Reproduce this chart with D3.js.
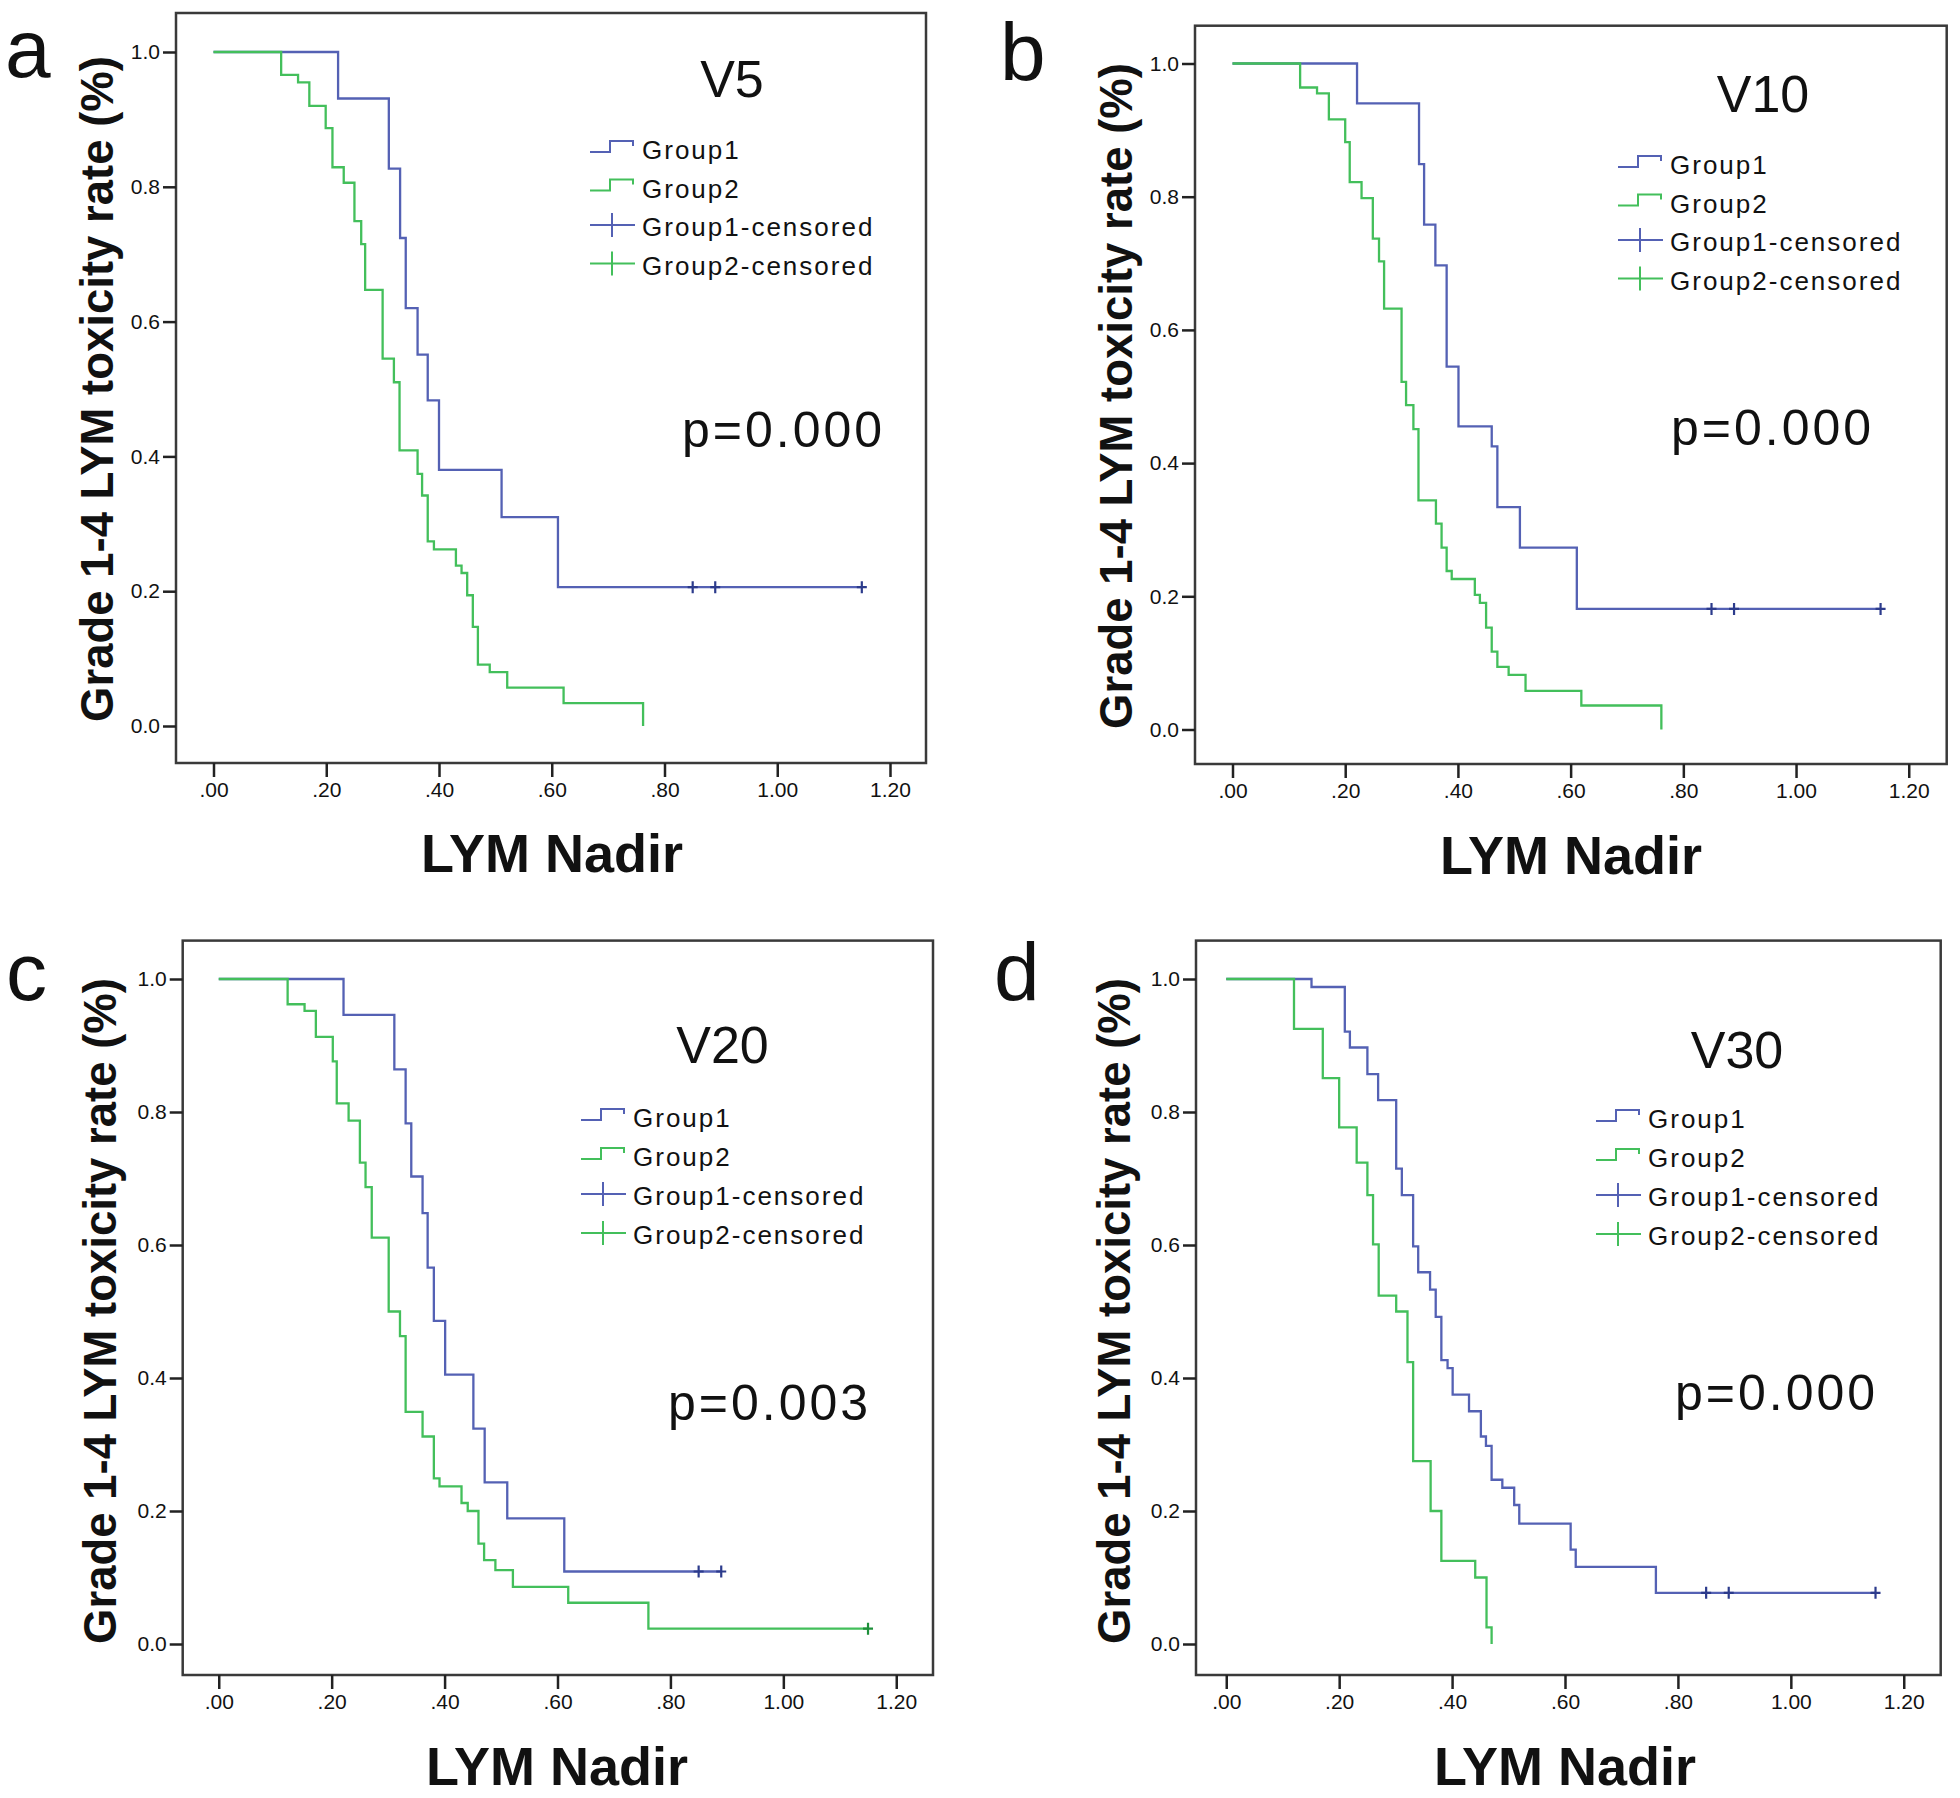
<!DOCTYPE html>
<html>
<head>
<meta charset="utf-8">
<script src="https://cdn.jsdelivr.net/npm/d3@7"></script>
<style>
  html, body { margin: 0; padding: 0; background: #fff; }
  svg { display: block; }
  text { font-family: "Liberation Sans", Arial, sans-serif; fill: #111; }
</style>
</head>
<body>
<svg id="chart" width="1960" height="1798"></svg>
<script>
// ---------------- DATA ----------------
const panelIds = ["a", "b", "c", "d"];
const panelTitles = ["V5", "V10", "V20", "V30"];
const pValues = ["p=0.000", "p=0.000", "p=0.003", "p=0.000"];
const legendLabels = ["Group1", "Group2", "Group1-censored", "Group2-censored"];
const xTickValues = [0, 0.2, 0.4, 0.6, 0.8, 1.0, 1.2];
const xTickLabels = [".00", ".20", ".40", ".60", ".80", "1.00", "1.20"];
const yTickValues = [0, 0.2, 0.4, 0.6, 0.8, 1.0];
const yTickLabels = ["0.0", "0.2", "0.4", "0.6", "0.8", "1.0"];
const xTitle = "LYM Nadir";
const yTitle = "Grade 1-4 LYM toxicity rate (%)";

// Panel a (V5)
const aG1Times = [0.221, 0.311, 0.331, 0.341, 0.362, 0.380, 0.400, 0.511, 0.611];
const aG1Surv  = [0.931, 0.827, 0.724, 0.620, 0.551, 0.483, 0.380, 0.310, 0.206];
const aG1Cens  = [0.85, 0.89, 1.15];
const aG2Times = [0.120, 0.150, 0.170, 0.199, 0.211, 0.231, 0.250, 0.262, 0.269, 0.300, 0.320, 0.330, 0.362, 0.370, 0.380, 0.391, 0.430, 0.440, 0.450, 0.460, 0.469, 0.490, 0.521, 0.621, 0.762];
const aG2Surv  = [0.966, 0.955, 0.920, 0.887, 0.829, 0.806, 0.749, 0.715, 0.647, 0.545, 0.510, 0.409, 0.374, 0.342, 0.274, 0.262, 0.238, 0.227, 0.194, 0.147, 0.091, 0.080, 0.057, 0.034, 0.000];
const aG2Cens  = [];

// Panel b (V10)
const bG1Times = [0.221, 0.331, 0.340, 0.360, 0.380, 0.401, 0.460, 0.470, 0.510, 0.611];
const bG1Surv  = [0.940, 0.849, 0.758, 0.697, 0.545, 0.455, 0.425, 0.334, 0.273, 0.181];
const bG1Cens  = [0.85, 0.89, 1.15];
const bG2Times = [0.120, 0.150, 0.171, 0.200, 0.208, 0.229, 0.249, 0.260, 0.269, 0.300, 0.308, 0.321, 0.330, 0.361, 0.371, 0.380, 0.389, 0.430, 0.439, 0.450, 0.460, 0.470, 0.490, 0.520, 0.619, 0.761];
const bG2Surv  = [0.964, 0.955, 0.916, 0.882, 0.822, 0.798, 0.737, 0.703, 0.632, 0.522, 0.487, 0.451, 0.344, 0.309, 0.273, 0.238, 0.226, 0.202, 0.190, 0.153, 0.117, 0.094, 0.082, 0.058, 0.036, 0.000];
const bG2Cens  = [];

// Panel c (V20)
const cG1Times = [0.221, 0.311, 0.331, 0.341, 0.361, 0.370, 0.381, 0.401, 0.451, 0.471, 0.511, 0.612];
const cG1Surv  = [0.946, 0.864, 0.783, 0.703, 0.648, 0.566, 0.486, 0.405, 0.324, 0.243, 0.189, 0.109];
const cG1Cens  = [0.85, 0.89];
const cG2Times = [0.122, 0.152, 0.172, 0.202, 0.209, 0.230, 0.250, 0.260, 0.271, 0.301, 0.321, 0.331, 0.361, 0.381, 0.391, 0.430, 0.441, 0.460, 0.470, 0.490, 0.521, 0.619, 0.761];
const cG2Surv  = [0.962, 0.952, 0.913, 0.876, 0.813, 0.787, 0.724, 0.687, 0.611, 0.500, 0.463, 0.349, 0.312, 0.249, 0.237, 0.212, 0.200, 0.151, 0.126, 0.111, 0.086, 0.062, 0.023];
const cG2Cens  = [1.15];

// Panel d (V30)
const dG1Times = [0.151, 0.210, 0.219, 0.250, 0.269, 0.301, 0.311, 0.331, 0.340, 0.361, 0.371, 0.381, 0.392, 0.401, 0.430, 0.451, 0.460, 0.470, 0.489, 0.510, 0.519, 0.610, 0.619, 0.761];
const dG1Surv  = [0.988, 0.921, 0.897, 0.857, 0.818, 0.715, 0.675, 0.598, 0.559, 0.533, 0.492, 0.427, 0.415, 0.375, 0.350, 0.312, 0.298, 0.247, 0.235, 0.209, 0.181, 0.142, 0.116, 0.077];
const dG1Cens  = [0.85, 0.89, 1.15];
const dG2Times = [0.120, 0.171, 0.200, 0.231, 0.250, 0.260, 0.270, 0.301, 0.321, 0.331, 0.362, 0.381, 0.441, 0.461, 0.470];
const dG2Surv  = [0.925, 0.851, 0.777, 0.724, 0.675, 0.601, 0.524, 0.500, 0.424, 0.275, 0.200, 0.125, 0.100, 0.025, 0.000];
const dG2Cens  = [];

const seriesByPanel = [
  [{t: aG1Times, s: aG1Surv, c: aG1Cens}, {t: aG2Times, s: aG2Surv, c: aG2Cens}],
  [{t: bG1Times, s: bG1Surv, c: bG1Cens}, {t: bG2Times, s: bG2Surv, c: bG2Cens}],
  [{t: cG1Times, s: cG1Surv, c: cG1Cens}, {t: cG2Times, s: cG2Surv, c: cG2Cens}],
  [{t: dG1Times, s: dG1Surv, c: dG1Cens}, {t: dG2Times, s: dG2Surv, c: dG2Cens}]
];

// ---------------- LAYOUT / STYLE ----------------
const layout = [
  {frame: [176, 13, 926, 763], xr: [213.5, 890], yr: [726, 52], label: [5, 77], title: [732, 97],
   legX: 642, legY: [159, 197.5, 236, 274.5], p: [682, 447], xl: [552, 872], yl: [113, 389]},
  {frame: [1195, 25.7, 1946.7, 764], xr: [1232.5, 1908.75], yr: [729.5, 63.5], label: [1000, 80], title: [1763, 112],
   legX: 1670, legY: [174, 212.5, 251, 289.5], p: [1671, 445], xl: [1571, 874], yl: [1132, 396]},
  {frame: [182.7, 940.6, 933, 1675], xr: [218.75, 896.25], yr: [1644, 979], label: [6, 1000], title: [722.5, 1063],
   legX: 633, legY: [1127, 1166, 1205, 1244], p: [668, 1420], xl: [557, 1785], yl: [116, 1311]},
  {frame: [1196, 940.6, 1940.7, 1675], xr: [1226.25, 1903.75], yr: [1644, 979], label: [994, 1000], title: [1737, 1068],
   legX: 1648, legY: [1128, 1167, 1206, 1245], p: [1675, 1410], xl: [1565, 1785], yl: [1130, 1311]}
];
const lineColors = ["#5461b4", "#43bf5b"];
const censorColors = ["#2c3b8c", "#1e8f3a"];

const svg = d3.select("#chart");

function survAt(series, time) {
  let v = 1;
  series.t.forEach((t, i) => { if (t <= time) v = series.s[i]; });
  return v;
}

panelIds.forEach((id, pi) => {
  const L = layout[pi];
  const g = svg.append("g").attr("class", "panel-" + id);
  const x = d3.scaleLinear().domain([0, 1.2]).range(L.xr);
  const y = d3.scaleLinear().domain([0, 1]).range(L.yr);
  const [fl, ft, fr, fb] = L.frame;

  // frame
  g.append("rect").attr("x", fl).attr("y", ft).attr("width", fr - fl).attr("height", fb - ft)
    .attr("fill", "none").attr("stroke", "#3a3a3a").attr("stroke-width", 2.5);

  // axes
  const yAxis = d3.axisLeft(y).tickValues(yTickValues)
    .tickFormat((d, i) => yTickLabels[i]).tickSize(13).tickSizeOuter(0).tickPadding(3);
  const gy = g.append("g").attr("transform", `translate(${fl},0)`).call(yAxis);
  gy.select(".domain").remove();
  gy.selectAll(".tick line").attr("stroke", "#222").attr("stroke-width", 2.5);
  gy.selectAll(".tick text").attr("font-size", 21).attr("fill", "#222")
    .attr("font-family", '"Liberation Sans", Arial, sans-serif');

  const xAxis = d3.axisBottom(x).tickValues(xTickValues)
    .tickFormat((d, i) => xTickLabels[i]).tickSize(14).tickSizeOuter(0).tickPadding(5);
  const gx = g.append("g").attr("transform", `translate(0,${fb})`).call(xAxis);
  gx.select(".domain").remove();
  gx.selectAll(".tick line").attr("stroke", "#222").attr("stroke-width", 2.5);
  gx.selectAll(".tick text").attr("font-size", 21).attr("fill", "#222")
    .attr("font-family", '"Liberation Sans", Arial, sans-serif');

  // curves
  const line = d3.line().x(d => x(d[0])).y(d => y(d[1]));
  seriesByPanel[pi].forEach((ser, gi) => {
    const pts = [[0, 1]];
    let prev = 1;
    ser.t.forEach((t, i) => { pts.push([t, prev]); pts.push([t, ser.s[i]]); prev = ser.s[i]; });
    const endT = Math.max(ser.t[ser.t.length - 1], ser.c.length ? d3.max(ser.c) : 0);
    pts.push([endT, prev]);
    g.append("path").attr("d", line(pts)).attr("fill", "none")
      .attr("stroke", lineColors[gi]).attr("stroke-width", 2.3);
    ser.c.forEach(ct => {
      const cx = x(ct), cy = y(survAt(ser, ct));
      g.append("path").attr("d", `M${cx - 5},${cy}H${cx + 5}M${cx},${cy - 6}V${cy + 6}`)
        .attr("stroke", censorColors[gi]).attr("stroke-width", 2.2).attr("fill", "none");
    });
  });

  // panel label
  g.append("text").attr("x", L.label[0]).attr("y", L.label[1])
    .attr("font-family", '"Open Sans", "Noto Sans", sans-serif').attr("font-size", 82)
    .text(id);

  // title V
  g.append("text").attr("x", L.title[0]).attr("y", L.title[1]).attr("text-anchor", "middle")
    .attr("font-size", 52).text(panelTitles[pi]);

  // p value
  g.append("text").attr("x", L.p[0]).attr("y", L.p[1]).attr("font-size", 50)
    .attr("letter-spacing", 3).text(pValues[pi]);

  // legend
  legendLabels.forEach((lab, li) => {
    const by = L.legY[li];
    const x0 = L.legX - 52;
    const col = lineColors[li % 2];
    if (li < 2) {
      g.append("path").attr("d", `M${x0},${by - 7}H${x0 + 20}V${by - 18}H${x0 + 43}V${by - 13}`)
        .attr("fill", "none").attr("stroke", col).attr("stroke-width", 2);
    } else {
      g.append("path").attr("d", `M${x0},${by - 11}H${x0 + 45}M${x0 + 22},${by - 23}V${by + 1}`)
        .attr("fill", "none").attr("stroke", col).attr("stroke-width", 2);
    }
    g.append("text").attr("x", L.legX).attr("y", by).attr("font-size", 26)
      .attr("letter-spacing", 2).attr("fill", "#111").text(lab);
  });

  // axis titles
  g.append("text").attr("x", L.xl[0]).attr("y", L.xl[1]).attr("text-anchor", "middle")
    .attr("font-size", 54).attr("font-weight", "bold").text(xTitle);
  g.append("text").attr("transform", `translate(${L.yl[0]},${L.yl[1]}) rotate(-90)`)
    .attr("text-anchor", "middle").attr("font-size", 45.5).attr("font-weight", "bold").text(yTitle);
});
</script>
</body>
</html>
